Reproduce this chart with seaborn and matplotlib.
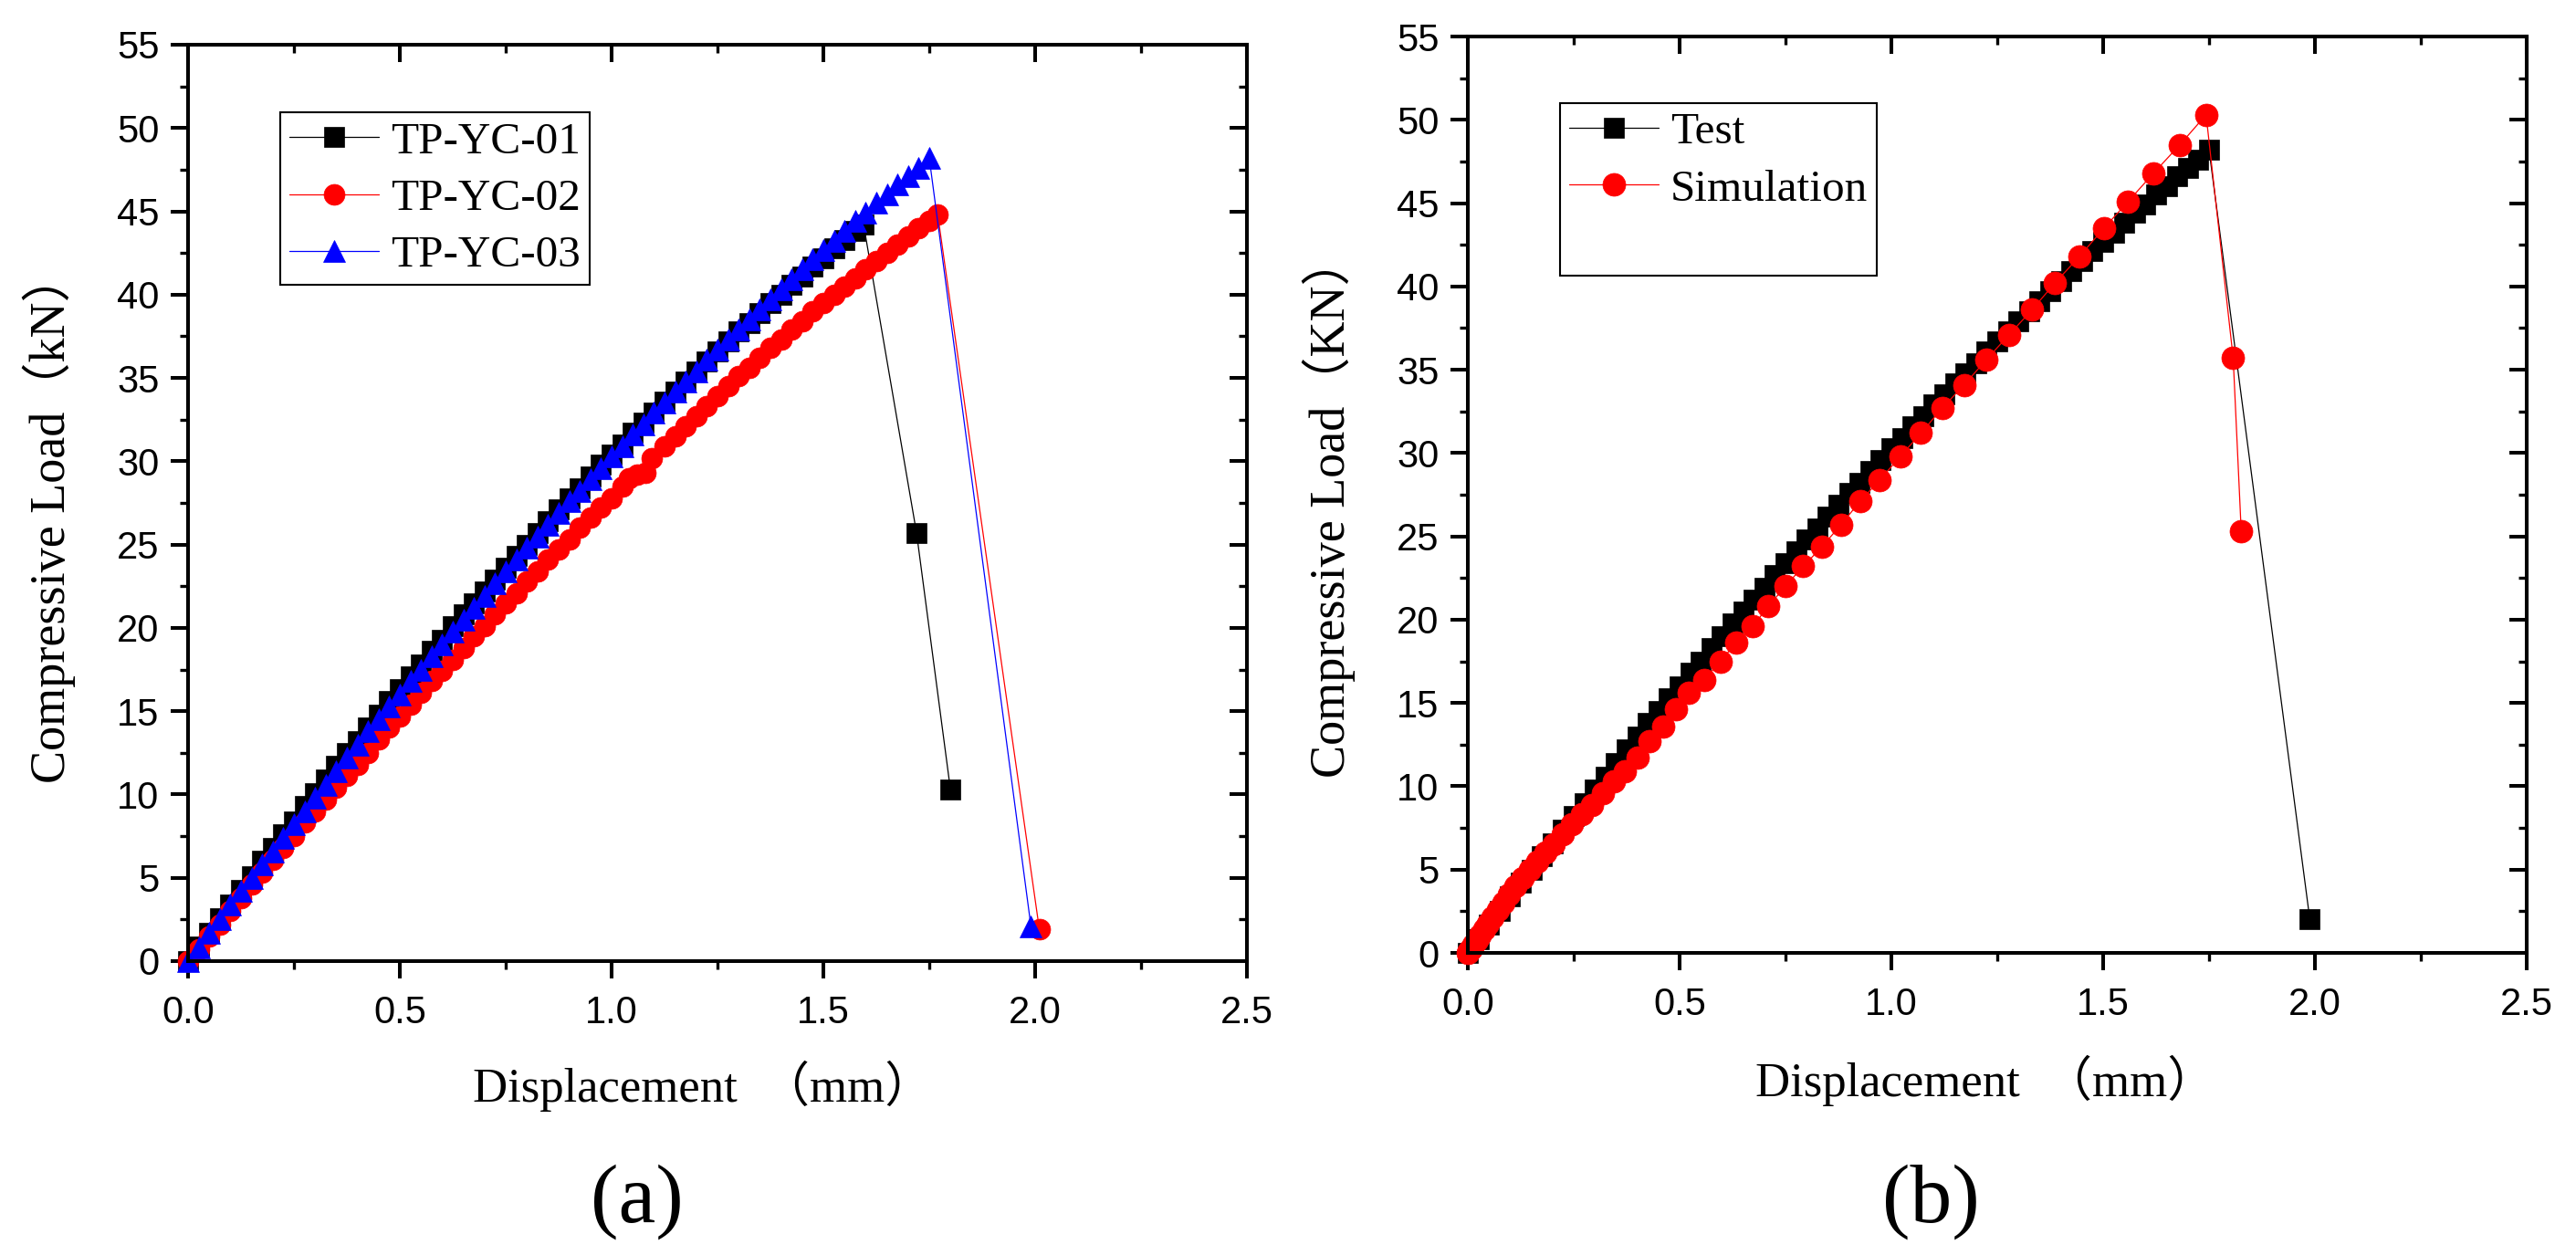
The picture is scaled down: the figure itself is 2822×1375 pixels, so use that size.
import matplotlib
matplotlib.use("Agg")
import matplotlib.pyplot as plt
import seaborn as sns
from matplotlib.ticker import MultipleLocator
from matplotlib.lines import Line2D

# ---------------- data ----------------
yc01_disp = [0.000, 0.025, 0.050, 0.075, 0.100, 0.125, 0.150, 0.175, 0.200, 0.225,
             0.250, 0.275, 0.300, 0.325, 0.350, 0.375, 0.400, 0.425, 0.450, 0.475,
             0.500, 0.525, 0.550, 0.575, 0.600, 0.625, 0.650, 0.675, 0.700, 0.725,
             0.750, 0.775, 0.800, 0.825, 0.850, 0.875, 0.900, 0.925, 0.950, 0.975,
             1.000, 1.025, 1.050, 1.075, 1.100, 1.125, 1.150, 1.175, 1.200, 1.225,
             1.250, 1.275, 1.300, 1.325, 1.350, 1.375, 1.400, 1.425, 1.450, 1.475,
             1.500, 1.525, 1.550, 1.575, 1.595, 1.720, 1.800]
yc01_load = [0.0, 0.9, 1.7, 2.6, 3.4, 4.3, 5.1, 6.0, 6.8, 7.6,
             8.4, 9.3, 10.1, 10.9, 11.7, 12.5, 13.2, 14.0, 14.8, 15.6,
             16.3, 17.1, 17.8, 18.6, 19.3, 20.1, 20.8, 21.5, 22.2, 22.9,
             23.6, 24.3, 25.0, 25.7, 26.4, 27.1, 27.8, 28.4, 29.1, 29.8,
             30.4, 31.0, 31.7, 32.3, 32.9, 33.6, 34.2, 34.8, 35.4, 36.0,
             36.6, 37.2, 37.8, 38.3, 38.9, 39.5, 40.0, 40.6, 41.1, 41.7,
             42.2, 42.8, 43.3, 43.8, 44.2, 25.7, 10.3]

yc02_disp = [0.000, 0.025, 0.050, 0.075, 0.100, 0.125, 0.150, 0.175, 0.200, 0.225,
             0.250, 0.275, 0.300, 0.325, 0.350, 0.375, 0.400, 0.425, 0.450, 0.475,
             0.500, 0.525, 0.550, 0.575, 0.600, 0.625, 0.650, 0.675, 0.700, 0.725,
             0.750, 0.775, 0.800, 0.825, 0.850, 0.875, 0.900, 0.925, 0.950, 0.975,
             1.000, 1.025, 1.040, 1.060, 1.080, 1.095, 1.125, 1.150, 1.175, 1.200,
             1.225, 1.250, 1.275, 1.300, 1.325, 1.350, 1.375, 1.400, 1.425, 1.450,
             1.475, 1.500, 1.525, 1.550, 1.575, 1.600, 1.625, 1.650, 1.675, 1.700,
             1.725, 1.750, 1.770, 2.010]
yc02_load = [0.0, 0.7, 1.5, 2.2, 3.0, 3.8, 4.6, 5.3, 6.1, 6.8,
             7.5, 8.3, 9.0, 9.7, 10.4, 11.1, 11.8, 12.5, 13.3, 14.0,
             14.7, 15.4, 16.1, 16.8, 17.4, 18.1, 18.8, 19.5, 20.1, 20.8,
             21.5, 22.1, 22.8, 23.4, 24.1, 24.7, 25.3, 26.0, 26.6, 27.2,
             27.8, 28.5, 29.0, 29.2, 29.3, 30.2, 30.9, 31.5, 32.1, 32.7,
             33.3, 33.9, 34.5, 35.1, 35.6, 36.2, 36.8, 37.3, 37.9, 38.4,
             39.0, 39.5, 40.0, 40.5, 41.0, 41.5, 42.0, 42.5, 43.0, 43.5,
             44.0, 44.4, 44.8, 1.9]

yc03_disp = [0.000, 0.025, 0.050, 0.075, 0.100, 0.125, 0.150, 0.175, 0.200, 0.225,
             0.250, 0.275, 0.300, 0.325, 0.350, 0.375, 0.400, 0.425, 0.450, 0.475,
             0.500, 0.525, 0.550, 0.575, 0.600, 0.625, 0.650, 0.675, 0.700, 0.725,
             0.750, 0.775, 0.800, 0.825, 0.850, 0.875, 0.900, 0.925, 0.950, 0.975,
             1.000, 1.025, 1.050, 1.075, 1.100, 1.125, 1.150, 1.175, 1.200, 1.225,
             1.250, 1.275, 1.300, 1.325, 1.350, 1.375, 1.400, 1.425, 1.450, 1.475,
             1.500, 1.525, 1.550, 1.575, 1.600, 1.625, 1.650, 1.675, 1.700, 1.725,
             1.750, 1.990]
yc03_load = [0.0, 0.8, 1.7, 2.5, 3.4, 4.2, 5.0, 5.8, 6.6, 7.4,
             8.2, 9.0, 9.8, 10.6, 11.4, 12.2, 13.0, 13.8, 14.5, 15.3,
             16.0, 16.8, 17.5, 18.3, 19.0, 19.8, 20.5, 21.2, 21.9, 22.7,
             23.4, 24.1, 24.8, 25.5, 26.2, 26.9, 27.6, 28.2, 28.9, 29.6,
             30.3, 30.9, 31.6, 32.2, 32.9, 33.5, 34.2, 34.8, 35.4, 36.1,
             36.7, 37.3, 37.9, 38.5, 39.1, 39.7, 40.3, 40.9, 41.5, 42.1,
             42.7, 43.2, 43.8, 44.4, 44.9, 45.5, 46.0, 46.6, 47.1, 47.6,
             48.2, 2.1]

# panel (b): test curve (same specimen as TP-YC-03) and simulation
test_disp = yc03_disp[:-1] + [1.988]
test_load = yc03_load[:-1] + [2.0]

sim_disp = [0.000, 0.003, 0.008, 0.014, 0.021, 0.029, 0.038, 0.048, 0.059, 0.071,
            0.084, 0.098, 0.113, 0.129, 0.146, 0.164, 0.183, 0.203, 0.224, 0.246,
            0.269, 0.293, 0.318, 0.344, 0.371, 0.400, 0.429, 0.462, 0.491, 0.522,
            0.559, 0.596, 0.633, 0.672, 0.710, 0.749, 0.792, 0.837, 0.881, 0.926,
            0.973, 1.021, 1.070, 1.120, 1.172, 1.224, 1.278, 1.332, 1.386, 1.444,
            1.502, 1.559, 1.619, 1.681, 1.743, 1.807, 1.826]
sim_load = [0.0, 0.1, 0.3, 0.5, 0.75, 1.05, 1.4, 1.75, 2.15, 2.6,
            3.0, 3.5, 4.0, 4.5, 5.0, 5.5, 6.0, 6.5, 7.1, 7.7,
            8.3, 8.9, 9.6, 10.3, 10.9, 11.7, 12.7, 13.6, 14.6, 15.6,
            16.4, 17.5, 18.6, 19.6, 20.8, 22.0, 23.2, 24.4, 25.7, 27.1,
            28.4, 29.8, 31.2, 32.7, 34.1, 35.6, 37.1, 38.6, 40.2, 41.8,
            43.5, 45.1, 46.8, 48.5, 50.3, 35.7, 25.3]

labels_a = ["TP-YC-01", "TP-YC-02", "TP-YC-03"]
labels_b = ["Test", "Simulation"]
x_ticks = [0.0, 0.5, 1.0, 1.5, 2.0, 2.5]
y_ticks = [0, 5, 10, 15, 20, 25, 30, 35, 40, 45, 50, 55]

# ---------------- style ----------------
sns.set_style("ticks")
plt.rcParams["font.family"] = ["Liberation Sans", "DejaVu Sans"]
plt.rcParams.update({
    "axes.edgecolor": "black", "xtick.color": "black", "ytick.color": "black",
    "text.color": "black", "axes.labelcolor": "black",
})
SERIF = ["Liberation Serif", "Noto Sans CJK SC", "DejaVu Serif"]

W, H = 2822, 1375
fig = plt.figure(figsize=(W / 100, H / 100), dpi=100)
axA = fig.add_axes([206 / W, 1 - 1053 / H, 1160 / W, 1004 / H])
axB = fig.add_axes([1608 / W, 1 - 1044 / H, 1160 / W, 1004 / H])

SPW = 2.9


def series(ax, x, y, marker, color, ms, label):
    sns.lineplot(x=x, y=y, ax=ax, sort=False, estimator=None, color=color,
                 marker=marker, markersize=ms, markeredgecolor=color,
                 markeredgewidth=0.5, linewidth=0.9, label=label, clip_on=False)


def style_axes(ax):
    ax.set_xlim(0, 2.5)
    ax.set_ylim(0, 55)
    ax.set_xticks(x_ticks)
    ax.set_yticks(y_ticks)
    ax.xaxis.set_minor_locator(MultipleLocator(0.25))
    ax.yaxis.set_minor_locator(MultipleLocator(2.5))
    for sp in ax.spines.values():
        sp.set_visible(True)
        sp.set_linewidth(SPW)
        sp.set_color("black")
    ax.tick_params(which="major", direction="out", length=13.7, width=SPW,
                   labelsize=30, pad=9)
    ax.tick_params(axis="x", which="major", pad=13)
    ax.tick_params(which="minor", direction="out", length=6.5, width=2.4)
    # inward ticks on the top and right borders
    sx = ax.secondary_xaxis("top")
    sx.set_xticks(x_ticks)
    sx.xaxis.set_minor_locator(MultipleLocator(0.25))
    sx.tick_params(which="major", direction="in", length=13.7, width=SPW, labeltop=False)
    sx.tick_params(which="minor", direction="in", length=6.5, width=2.4)
    sx.spines["top"].set_linewidth(SPW)
    sy = ax.secondary_yaxis("right")
    sy.set_yticks(y_ticks)
    sy.yaxis.set_minor_locator(MultipleLocator(2.5))
    sy.tick_params(which="major", direction="in", length=13.7, width=SPW, labelright=False)
    sy.tick_params(which="minor", direction="in", length=6.5, width=2.4)
    sy.spines["right"].set_linewidth(SPW)


LEG_KW = dict(loc="upper left", frameon=True, fancybox=False, shadow=False,
              framealpha=1, edgecolor="black", borderpad=0.2, handlelength=2.0,
              handletextpad=0.25, labelspacing=0.36, borderaxespad=0,
              prop={"family": "Liberation Serif", "size": 35.5})

# ---------------- panel (a) ----------------
series(axA, yc01_disp, yc01_load, "s", "#000000", 15.5, labels_a[0])
series(axA, yc02_disp, yc02_load, "o", "#FF0000", 16.5, labels_a[1])
series(axA, yc03_disp, yc03_load, "^", "#0000FF", 17.5, labels_a[2])
style_axes(axA)
axA.set_xlabel("Displacement  （mm）", fontsize=38, family=SERIF)
axA.set_ylabel("Compressive Load（kN）", fontsize=39, family=SERIF)
axA.xaxis.set_label_coords(0.486, -0.136)
axA.xaxis.label.set_va("center")
axA.yaxis.set_label_coords(-0.131, 0.484)
axA.yaxis.label.set_va("center")
hA, lA = axA.get_legend_handles_labels()
legA = axA.legend(hA, lA, bbox_to_anchor=(0.087, 0.926),
                  bbox_transform=axA.transAxes, **LEG_KW)
legA.get_frame().set_linewidth(1.5)

# ---------------- panel (b) ----------------
series(axB, test_disp, test_load, "s", "#000000", 15.5, labels_b[0])
series(axB, sim_disp, sim_load, "o", "#FF0000", 18, labels_b[1])
style_axes(axB)
axB.set_xlabel("Displacement  （mm）", fontsize=38, family=SERIF)
axB.set_ylabel("Compressive Load（KN）", fontsize=39, family=SERIF)
axB.xaxis.set_label_coords(0.489, -0.139)
axB.xaxis.label.set_va("center")
axB.yaxis.set_label_coords(-0.131, 0.487)
axB.yaxis.label.set_va("center")
hB, lB = axB.get_legend_handles_labels()
hB = hB + [Line2D([], [], linestyle="none")]
lB = lB + [" "]
legB = axB.legend(hB, lB, bbox_to_anchor=((1709 - 1608) / 1160, (1044 - 113) / 1004),
                  bbox_transform=axB.transAxes, **LEG_KW)
legB.get_frame().set_linewidth(1.5)

fig.text(698 / W, 1 - 1317 / H, "(a)", fontsize=66, family="Liberation Serif",
         ha="center", va="center")
fig.text(2115 / W, 1 - 1317 / H, "(b)", fontsize=66, family="Liberation Serif",
         ha="center", va="center")

fig.savefig("out.png", dpi=100, facecolor="white")
